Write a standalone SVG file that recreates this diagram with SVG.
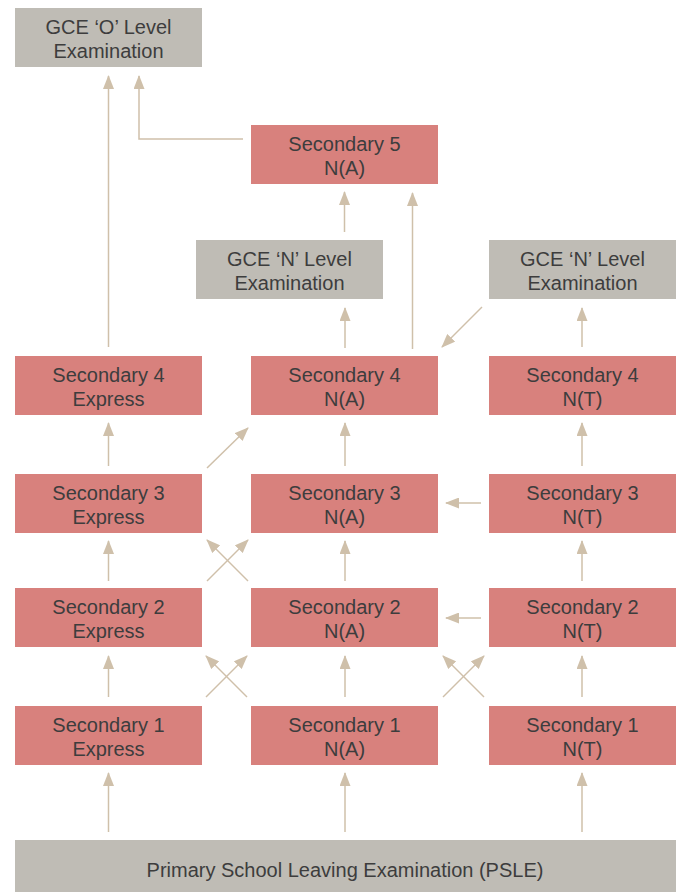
<svg xmlns="http://www.w3.org/2000/svg" width="681" height="892" viewBox="0 0 681 892">
<style>
.sec{fill:#d8817d}
.exam{fill:#bfbcb5}
text{font-family:"Liberation Sans",Arial,sans-serif;font-size:20px;fill:#3d3d3d;text-anchor:middle}
.c line,.c polyline{stroke:#cfc0aa;stroke-width:1.5;fill:none;marker-end:url(#ah)}
</style>
<defs>
<marker id="ah" viewBox="0 0 14 11" refX="13" refY="5.5" markerWidth="14" markerHeight="11" markerUnits="userSpaceOnUse" orient="auto">
<path d="M0,0 L14,5.5 L0,11 z" fill="#cfc0aa"/>
</marker>
</defs>
<rect width="681" height="892" fill="#ffffff"/>

<g id="gce-o"><rect class="exam" x="15" y="8" width="187" height="59"/><text x="108.5" y="34">GCE ‘O’ Level<tspan x="108.5" dy="24">Examination</tspan></text></g>
<g id="sec5-na"><rect class="sec" x="251" y="125" width="187" height="59"/><text x="344.5" y="151">Secondary 5<tspan x="344.5" dy="24">N(A)</tspan></text></g>
<g id="gce-n-na"><rect class="exam" x="196" y="240" width="187" height="59"/><text x="289.5" y="266">GCE ‘N’ Level<tspan x="289.5" dy="24">Examination</tspan></text></g>
<g id="gce-n-nt"><rect class="exam" x="489" y="240" width="187" height="59"/><text x="582.5" y="266">GCE ‘N’ Level<tspan x="582.5" dy="24">Examination</tspan></text></g>

<g id="sec4-exp"><rect class="sec" x="15" y="356" width="187" height="59"/><text x="108.5" y="382">Secondary 4<tspan x="108.5" dy="24">Express</tspan></text></g>
<g id="sec4-na"><rect class="sec" x="251" y="356" width="187" height="59"/><text x="344.5" y="382">Secondary 4<tspan x="344.5" dy="24">N(A)</tspan></text></g>
<g id="sec4-nt"><rect class="sec" x="489" y="356" width="187" height="59"/><text x="582.5" y="382">Secondary 4<tspan x="582.5" dy="24">N(T)</tspan></text></g>

<g id="sec3-exp"><rect class="sec" x="15" y="474" width="187" height="59"/><text x="108.5" y="500">Secondary 3<tspan x="108.5" dy="24">Express</tspan></text></g>
<g id="sec3-na"><rect class="sec" x="251" y="474" width="187" height="59"/><text x="344.5" y="500">Secondary 3<tspan x="344.5" dy="24">N(A)</tspan></text></g>
<g id="sec3-nt"><rect class="sec" x="489" y="474" width="187" height="59"/><text x="582.5" y="500">Secondary 3<tspan x="582.5" dy="24">N(T)</tspan></text></g>

<g id="sec2-exp"><rect class="sec" x="15" y="588" width="187" height="59"/><text x="108.5" y="614">Secondary 2<tspan x="108.5" dy="24">Express</tspan></text></g>
<g id="sec2-na"><rect class="sec" x="251" y="588" width="187" height="59"/><text x="344.5" y="614">Secondary 2<tspan x="344.5" dy="24">N(A)</tspan></text></g>
<g id="sec2-nt"><rect class="sec" x="489" y="588" width="187" height="59"/><text x="582.5" y="614">Secondary 2<tspan x="582.5" dy="24">N(T)</tspan></text></g>

<g id="sec1-exp"><rect class="sec" x="15" y="706" width="187" height="59"/><text x="108.5" y="732">Secondary 1<tspan x="108.5" dy="24">Express</tspan></text></g>
<g id="sec1-na"><rect class="sec" x="251" y="706" width="187" height="59"/><text x="344.5" y="732">Secondary 1<tspan x="344.5" dy="24">N(A)</tspan></text></g>
<g id="sec1-nt"><rect class="sec" x="489" y="706" width="187" height="59"/><text x="582.5" y="732">Secondary 1<tspan x="582.5" dy="24">N(T)</tspan></text></g>

<g id="psle"><rect class="exam" x="15" y="840" width="661" height="52"/><text x="345" y="877">Primary School Leaving Examination (PSLE)</text></g>

<g id="connectors" class="c">
<line x1="108.5" y1="832" x2="108.5" y2="773"/>
<line x1="345" y1="832" x2="345" y2="773"/>
<line x1="582" y1="832" x2="582" y2="773"/>
<line x1="108.5" y1="697" x2="108.5" y2="656"/>
<line x1="345" y1="697" x2="345" y2="656"/>
<line x1="582" y1="697" x2="582" y2="656"/>
<line x1="206" y1="697" x2="247" y2="656"/>
<line x1="247" y1="697" x2="206" y2="656"/>
<line x1="443" y1="697" x2="484" y2="656"/>
<line x1="484" y1="697" x2="443" y2="656"/>
<line x1="481" y1="618" x2="446" y2="618"/>
<line x1="108.5" y1="581" x2="108.5" y2="541"/>
<line x1="345" y1="581" x2="345" y2="541"/>
<line x1="582" y1="581" x2="582" y2="541"/>
<line x1="207" y1="581" x2="248" y2="540"/>
<line x1="248" y1="581" x2="207" y2="540"/>
<line x1="481" y1="503" x2="446" y2="503"/>
<line x1="108.5" y1="466" x2="108.5" y2="423"/>
<line x1="345" y1="466" x2="345" y2="423"/>
<line x1="582" y1="466" x2="582" y2="423"/>
<line x1="207" y1="468" x2="248" y2="428"/>
<line x1="108.5" y1="347" x2="108.5" y2="76"/>
<line x1="345" y1="348" x2="345" y2="308"/>
<line x1="582" y1="347" x2="582" y2="308"/>
<line x1="482" y1="307" x2="442" y2="347"/>
<line x1="412.5" y1="349" x2="412.5" y2="193"/>
<line x1="344.5" y1="232" x2="344.5" y2="192"/>
<polyline points="243,139 139,139 139,76"/>
</g>
</svg>
